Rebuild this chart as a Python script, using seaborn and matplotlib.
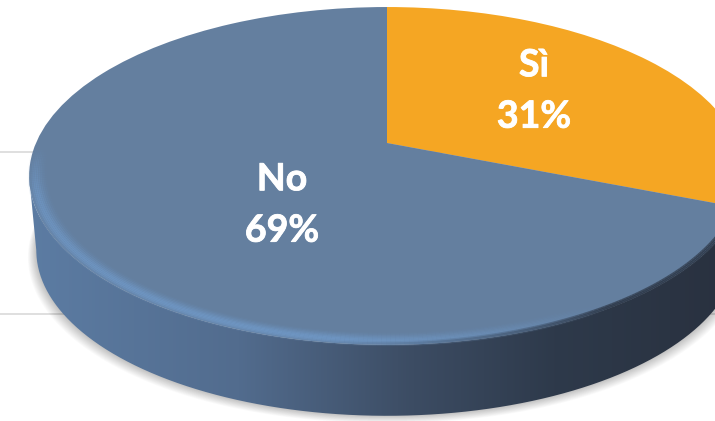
import numpy as np
import pandas as pd
import matplotlib.pyplot as plt
import seaborn as sns
import matplotlib.patheffects as pe
from matplotlib.collections import LineCollection
from matplotlib.colors import LinearSegmentedColormap, to_rgb
from matplotlib.patches import PathPatch, Polygon
from matplotlib.path import Path
from matplotlib.transforms import Transform

categories = ['Sì', 'No']
values = [31, 69]
colors = ['#F5A623', '#647F9F']
grid_rows = [152, 314]

# pixel geometry of the tilted disc
CX, CY = 387, 143
A, B, K = 351, 134.6, 0.195
DROP, SHRINK = 75, 0.98


def project(xy):
    x, y = xy[:, 0], xy[:, 1]
    d = 1 + K * y
    return np.column_stack([CX + A * x / d, (CY - B * y) / d])


def lower(pts):
    return np.column_stack([CX + (pts[:, 0] - CX) * SHRINK,
                            CY + (pts[:, 1] - CY) * SHRINK + DROP])


def rim(t, r=1.0):
    return project(np.column_stack([r * np.cos(t), r * np.sin(t)]))


class Tilt(Transform):
    input_dims = output_dims = 2

    def transform_non_affine(self, values):
        return project(np.asarray(values))


df = pd.DataFrame({'answer': categories, 'share': values})

sns.set_theme(style='white')
plt.rcParams['font.family'] = ['Lato', 'DejaVu Sans']

fig, ax = plt.subplots(figsize=(7.15, 4.21), dpi=100)
fig.subplots_adjust(0, 0, 1, 1)

wedges, _ = ax.pie(df['share'], colors=colors, startangle=90, counterclock=False,
                   wedgeprops={'linewidth': 0, 'edgecolor': 'none'})
ax.set_aspect('auto')
ax.set_xlim(0, 715)
ax.set_ylim(421, 0)
ax.axis('off')
for w in wedges:
    w.set_transform(Tilt() + ax.transData)
    w.set_zorder(5)

ax.hlines(grid_rows, 0, 715, color='#D9D9D9', lw=1.2, zorder=1)

# soft shadow under the disc
t_all = np.linspace(0, 2 * np.pi, 300)
base = lower(rim(t_all))
for grow in np.linspace(14, 1, 12):
    shadow = base.copy()
    shadow[:, 0] = CX + (shadow[:, 0] - CX) + np.sign(shadow[:, 0] - CX) * grow * 0.6
    shadow[:, 1] += grow * 0.5
    ax.add_patch(Polygon(shadow, closed=True, fc='black', ec='none', alpha=0.018, zorder=2))

# side wall, gradient clipped to the band between the two rims
t_front = np.linspace(np.pi + np.arcsin(K), 2 * np.pi - np.arcsin(K), 200)
top_edge = rim(t_front)
side = np.vstack([top_edge, lower(rim(t_front))[::-1]])
wall = LinearSegmentedColormap.from_list('wall', [(0, '#5C7CA3'), (0.3, '#526C8E'),
                                                 (0.55, '#3C4C63'), (0.75, '#2E3A4B'),
                                                 (1, '#29313F')])
im = ax.imshow(np.linspace(0, 1, 256)[None, :], cmap=wall, extent=(28, 730, 421, 0),
               aspect='auto', zorder=3)
im.set_clip_path(PathPatch(Path(side, closed=False), transform=ax.transData))
ax.set_xlim(0, 715)
ax.set_ylim(421, 0)

# bevel on the front of the top face
t = np.linspace(np.pi + 0.02, 2 * np.pi - np.arcsin(K) - 0.12, 260)
frac = (t - t[0]) / (t[-1] - t[0])
light = np.array(to_rgb('#7099C8'))
dark = np.array(to_rgb('#2C3645'))
rings = np.linspace(1.0, 0.955, 10)
strength = [0.12, 0.3, 0.5, 0.62, 0.62, 0.5, 0.36, 0.24, 0.14, 0.06]
for r, amt in zip(rings, strength):
    pts = rim(t, r)
    segs = np.stack([pts[:-1], pts[1:]], axis=1)
    cols = []
    for f in frac[:-1]:
        fade = np.clip((f - 0.5) / 0.25, 0, 1)
        rise = np.clip(f / 0.1, 0, 1)
        if r > 0.985:
            # outer rings slide from highlight into the dark wall
            cols.append((*(light * (1 - fade) + dark * fade), amt * rise * (1 - fade) + 0.7 * fade))
        else:
            cols.append((*light, amt * rise * (1 - fade)))
    ax.add_collection(LineCollection(segs, colors=cols, lw=1.8, zorder=6, capstyle='butt'))

label_pos = {'Sì': (534, 91), 'No': (282, 205)}
for cat, val in zip(categories, values):
    x, y = label_pos[cat]
    ax.text(x, y, f'{cat}\n{val}%', color='white', fontsize=27, fontweight='bold',
            ha='center', va='center', linespacing=1.62, zorder=8,
            path_effects=[pe.withStroke(linewidth=0.6, foreground='white')])

plt.savefig('out.png', dpi=100)
